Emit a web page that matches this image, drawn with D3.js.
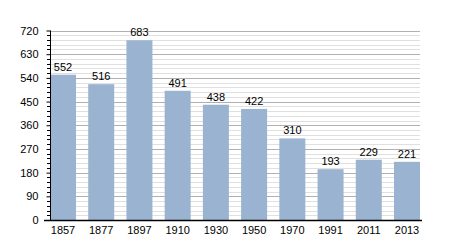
<!DOCTYPE html>
<html><head><meta charset="utf-8">
<script src="https://cdn.jsdelivr.net/npm/d3@7"></script>
<style>body{margin:0;background:#fff}svg{display:block}text{font-family:"Liberation Sans",Arial,sans-serif}</style>
</head><body>
<script>
const years = ["1857","1877","1897","1910","1930","1950","1970","1991","2011","2013"];
const population = [552,516,683,491,438,422,310,193,229,221];
const yTicks = [0,90,180,270,360,450,540,630,720];

const W=450,H=250, x0=50, x1=420, yTop=30.5, yBot=220;
const svg=d3.select("body").append("svg").attr("width",W).attr("height",H);
const x=d3.scaleBand().domain(years).range([x0,x1]).paddingInner(0.32).paddingOuter(0);
const y=d3.scaleLinear().domain([0,720]).range([yBot,yTop]);

const minor=d3.range(0,721,18).filter(v=>v%90!==0);
svg.append("g").selectAll("line").data(minor).join("line")
  .attr("x1",x0).attr("x2",x1).attr("y1",d=>Math.round(y(d))+0.5).attr("y2",d=>Math.round(y(d))+0.5)
  .attr("stroke","#e0e0e0").attr("stroke-width",1);
svg.append("g").selectAll("line").data(yTicks.filter(v=>v>0)).join("line")
  .attr("x1",x0).attr("x2",x1).attr("y1",d=>Math.round(y(d))+0.5).attr("y2",d=>Math.round(y(d))+0.5)
  .attr("stroke","#b0b0b0").attr("stroke-width",1);

svg.append("g").selectAll("rect").data(population).join("rect")
  .attr("x",(d,i)=>x(years[i])).attr("width",x.bandwidth())
  .attr("y",d=>y(d)).attr("height",d=>yBot-y(d)).attr("fill","#99b3d0");

svg.append("g").selectAll("text").data(population).join("text")
  .attr("x",(d,i)=>x(years[i])+x.bandwidth()/2).attr("y",d=>y(d)-4)
  .attr("text-anchor","middle").attr("font-size",11).attr("fill","#000").text(d=>d);

// minor ticks on left axis
svg.append("g").selectAll("line").data(minor).join("line")
  .attr("x1",x0-3).attr("x2",x0).attr("y1",d=>Math.round(y(d))+0.5).attr("y2",d=>Math.round(y(d))+0.5)
  .attr("stroke","#000");
const yAxis=d3.axisLeft(y).tickValues(yTicks).tickSize(4).tickPadding(8);
const gy=svg.append("g").attr("transform",`translate(${x0+0.5},0)`).call(yAxis);
gy.select(".domain").attr("d",`M0,${yTop}V${yBot}`).attr("stroke","#000");
gy.selectAll("text").attr("font-size",11).attr("font-family","Liberation Sans, Arial, sans-serif").attr("fill","#000");

const xAxis=d3.axisBottom(x).tickSize(0).tickPadding(6);
const gx=svg.append("g").attr("transform",`translate(0,${yBot+0.5})`).call(xAxis);
gx.select(".domain").attr("d",`M${x0-6},0H${x1+2}`).attr("stroke","#000").attr("stroke-width",1.5);
gx.selectAll("text").attr("font-size",11).attr("font-family","Liberation Sans, Arial, sans-serif").attr("fill","#000");
</script>
</body></html>
